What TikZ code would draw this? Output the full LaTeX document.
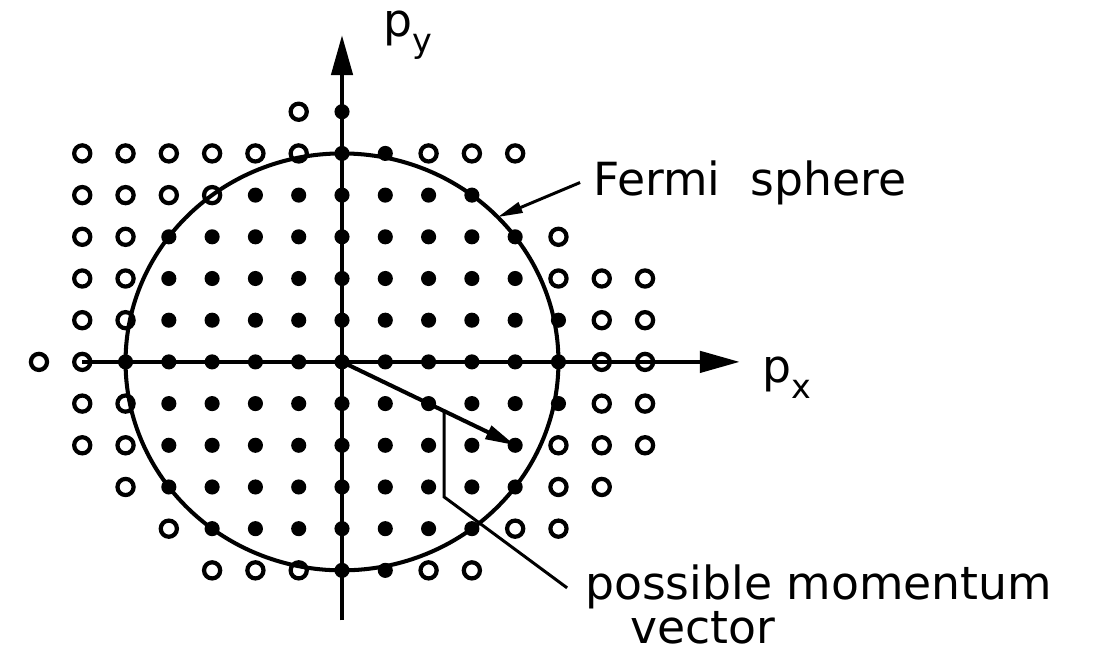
\documentclass[tikz,border=0pt]{standalone}
\usepackage{fontspec}
\setmainfont{DejaVu Sans}
\usepackage{tikz}
\usetikzlibrary{arrows.meta,calc}
\newcommand{\lblsize}{\fontsize{26}{23}\selectfont}
\newcommand{\subsize}{\fontsize{19}{19}\selectfont}

\begin{document}
\begin{tikzpicture}[x=0.866cm, y=0.834cm, font=\lblsize,
  axis/.style={line width=2.6pt, -{Triangle[length=0.8cm, width=0.42cm]}},
  vec/.style={line width=2.3pt, -{Triangle[length=0.6cm, width=0.28cm]}},
  ptr/.style={line width=1.7pt},
  emp/.style={draw=black, line width=2.4pt}]
\useasboundingbox (-7.90,-7.31) rectangle (17.37,8.68);
% Fermi sphere
\coordinate (O) at (0,0);
\draw[line width=2.3pt] (O) circle [radius=5];
% axes
\coordinate (xl) at (-6,0);
\coordinate (xr) at (9.19,0);
\coordinate (yb) at (0,-6.2);
\coordinate (yt) at (0,7.84);
\draw[axis] (xl) -- (xr);
\draw[axis] (yb) -- (yt);
\node[anchor=base west, inner sep=0] (px) at (9.70,-0.50) {p\raisebox{-0.35em}{\subsize x}};
\node[anchor=base west, inner sep=0] (py) at (0.95,7.80) {p\raisebox{-0.35em}{\subsize y}};
% occupied states
\foreach \j/\a/\b in {6/0/0, 5/0/1, 4/-2/3, 3/-4/4, 2/-4/4, 1/-4/5, 0/-5/5,
    -1/-4/5, -2/-4/4, -3/-4/4, -4/-3/3, -5/0/1}
  \foreach \i in {\a,...,\b}
    \fill (\i,\j) circle (4.3pt);
% empty states
\foreach \i/\j in {-1/6,
    -6/5, -5/5, -4/5, -3/5, -2/5, -1/5, 2/5, 3/5, 4/5,
    -6/4, -5/4, -4/4, -3/4,
    -6/3, -5/3, 5/3,
    -6/2, -5/2, 5/2, 6/2, 7/2,
    -6/1, -5/1, 6/1, 7/1,
    -7/0, -6/0, 6/0, 7/0,
    -6/-1, -5/-1, 6/-1, 7/-1,
    -6/-2, -5/-2, 5/-2, 6/-2, 7/-2,
    -5/-3, 5/-3, 6/-3,
    -4/-4, 4/-4, 5/-4,
    -3/-5, -2/-5, -1/-5, 2/-5, 3/-5}
  \draw[emp] (\i,\j) circle (4.6pt);
% momentum vector
\coordinate (vtip) at (4,-2);
\draw[vec] (O) -- (vtip);
% labels
\node[anchor=base west, inner sep=0] (fermi) at (5.80,4.00) {Fermi\hspace{0.35em} sphere};
\coordinate (sph) at (44:5);
\draw[ptr, -{Triangle[length=0.5cm, width=0.22cm]}] ([xshift=-0.26cm]fermi.west) -- (sph);
\node[anchor=north west, inner sep=0, align=left] (mom) at (5.61,-4.87)
  {possible momentum\\\hspace{0.9cm}vector};
\coordinate (vmid) at (2.36,-1.18);
\coordinate (bend) at (2.36,-3.24);
\coordinate (momend) at (5.2,-5.42);
\draw[ptr] (vmid) -- (bend) -- (momend);
\end{tikzpicture}
\end{document}
